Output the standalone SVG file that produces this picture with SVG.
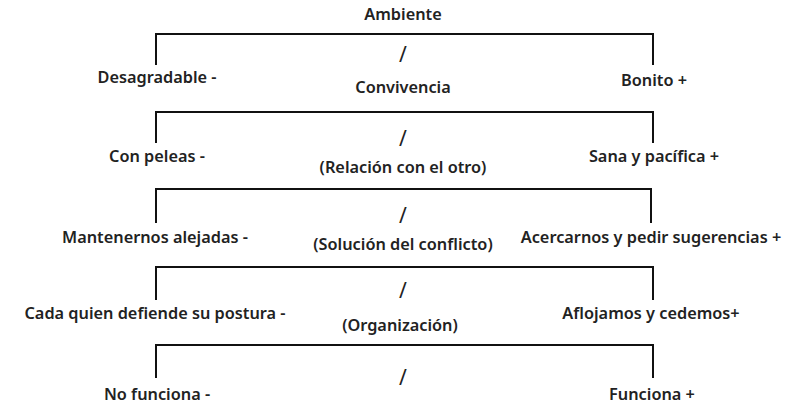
<svg xmlns="http://www.w3.org/2000/svg" width="791" height="413" viewBox="0 0 791 413">
<style>
text{font-family:"Noto Sans","Liberation Sans",sans-serif;font-size:16.3px;font-weight:600;fill:#222;text-anchor:middle}
.s{font-size:21px;font-weight:400}
.b{fill:none;stroke:#111;stroke-width:2}
</style>
<rect width="791" height="413" fill="#fff"/>
<g id="connectors">
<path class="b" d="M156,65V34H653V65"/>
<path class="b" d="M156,143V112H653V143"/>
<path class="b" d="M156,223V189H651V223"/>
<path class="b" d="M156,300V267H653V300"/>
<path class="b" d="M156,378V345H653V378"/>
</g>
<g id="n0"><text x="403" y="20">Ambiente</text></g>
<g id="r1"><text class="s" x="403" y="62">/</text><text x="157" y="83">Desagradable -</text><text x="654" y="86">Bonito +</text><text x="403" y="93">Convivencia</text></g>
<g id="r2"><text class="s" x="403" y="146">/</text><text x="157" y="162">Con peleas -</text><text x="654" y="162">Sana y pacífica +</text><text x="403" y="173">(Relación con el otro)</text></g>
<g id="r3"><text class="s" x="403" y="223">/</text><text x="155" y="243">Mantenernos alejadas -</text><text x="651" y="243">Acercarnos y pedir sugerencias +</text><text x="403" y="250">(Solución del conflicto)</text></g>
<g id="r4"><text class="s" x="403" y="298">/</text><text x="155" y="319">Cada quien defiende su postura -</text><text x="651" y="319">Aflojamos y cedemos+</text><text x="400" y="331">(Organización)</text></g>
<g id="r5"><text class="s" x="403" y="385">/</text><text x="157" y="400">No funciona -</text><text x="652" y="400">Funciona +</text></g>
</svg>
